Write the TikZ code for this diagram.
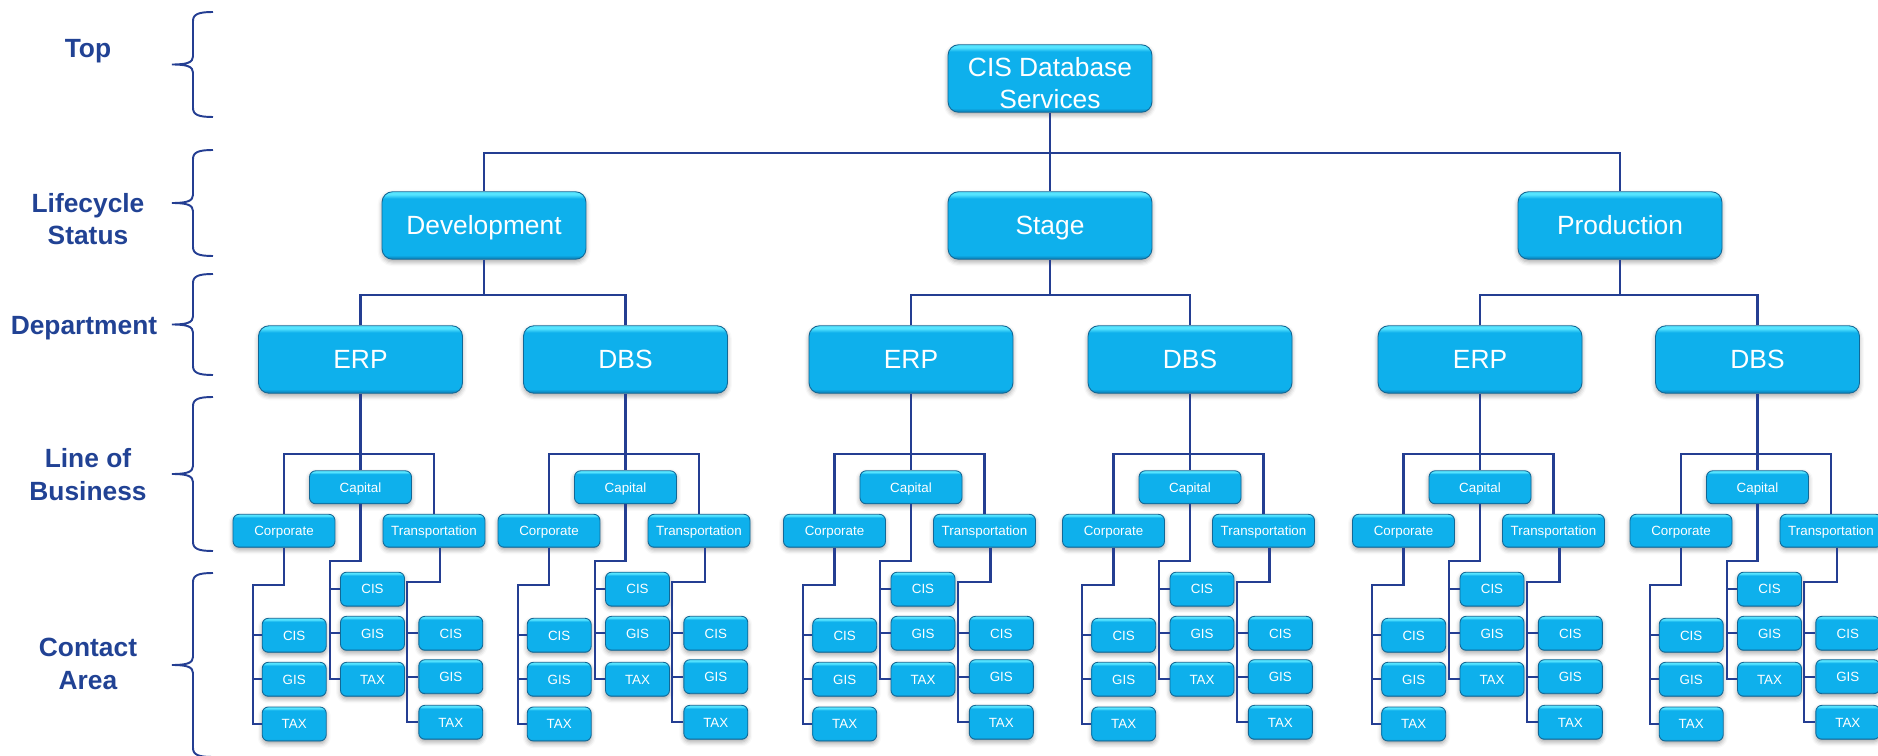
\documentclass[tikz,border=0pt]{standalone}
\usepackage{fontspec}
\setmainfont{Liberation Sans}
\usetikzlibrary{calc,shadows.blur}

\definecolor{boxmain}{RGB}{14,176,236}
\definecolor{boxlight}{RGB}{86,228,255}
\definecolor{boxdark}{RGB}{10,118,172}
\definecolor{boxedge}{RGB}{18,104,150}
\definecolor{lineblue}{RGB}{36,62,146}
\definecolor{lblblue}{RGB}{33,66,148}

\pgfdeclareverticalshading{cisbox}{100bp}{color(0bp)=(boxdark); color(25bp)=(boxdark); color(28bp)=(boxmain); color(70bp)=(boxmain); color(73bp)=(boxlight); color(75bp)=(boxlight); color(100bp)=(boxlight)}

\begin{document}
\begin{tikzpicture}[x=0.02cm,y=-0.02cm]
  \tikzset{
    box/.style={shade, shading=cisbox, draw=boxedge, line width=0.5pt, text=white, inner sep=0pt, align=center,
      blur shadow={shadow xshift=0pt, shadow yshift=-1.5pt, shadow blur radius=2.5pt, shadow opacity=35}},
    bigbox/.style={box, rounded corners=6pt, minimum width=4.08cm, minimum height=1.35cm, font=\fontsize{15}{18.2}\selectfont,
      text height=10.75pt, text depth=0pt},
    lobbox/.style={box, rounded corners=3.5pt, minimum width=2.04cm, minimum height=0.66cm, font=\fontsize{7.6}{9}\selectfont,
      text height=5.45pt, text depth=0pt},
    leafbox/.style={box, rounded corners=3.5pt, minimum width=1.28cm, minimum height=0.68cm, font=\fontsize{7.6}{9}\selectfont,
      text height=5.45pt, text depth=0pt},
    conn/.style={draw=lineblue, line width=1.2pt},
    lvlbrace/.style={draw=lineblue, line width=1.1pt},
    lvllabel/.style={text=lblblue, font=\bfseries\fontsize{15}{18.6}\selectfont, align=center}
  }
  \useasboundingbox (0,0) rectangle (1878,756);

  \node[lvllabel] (toplbl) at (88,51.4) {Top};
  \node[lvllabel] (lifelbl) at (88,219) {Lifecycle\\Status};
  \node[lvllabel] (deptlbl) at (84,328) {Department};
  \node[lvllabel] (loblbl) at (88,474.5) {Line of\\Business};
  \node[lvllabel] (contlbl) at (88,664) {Contact\\Area};

  \foreach \ya/\yb in {12/117, 150/256, 274/375, 397/551, 573/757}{
    \pgfmathsetmacro\ym{(\ya+\yb)/2}
    \draw[lvlbrace] (213,\ya) .. controls (199,\ya) and (193,\ya+2) .. (193,\ya+9) -- (193,\ym-8) .. controls (193,\ym-2) and (187,\ym) .. (172,\ym) .. controls (187,\ym) and (193,\ym+2) .. (193,\ym+8) -- (193,\yb-9) .. controls (193,\yb-2) and (199,\yb) .. (213,\yb);
  }

  \node[bigbox, text height=33.7pt, text depth=0pt] (cisdb) at (1050,78.5) {CIS Database\\Services};
  \node[bigbox] (dev) at (484,225.5) {Development};
  \node[bigbox] (stage) at (1050,225.5) {Stage};
  \node[bigbox] (prod) at (1620,225.5) {Production};

  \foreach \dep/\xc/\lbl in {derp/360.5/ERP, ddbs/625.5/DBS, serp/911/ERP, sdbs/1190/DBS, perp/1480/ERP, pdbs/1757.5/DBS}{
    \node[bigbox] (\dep) at (\xc,359.5) {\lbl};
    \node[lobbox] (\dep-cap) at (\xc,487.3) {Capital};
    \node[lobbox] (\dep-corp) at (\xc-76.5,530.8) {Corporate};
    \node[lobbox] (\dep-trans) at (\xc+73.5,530.8) {Transportation};
    \node[leafbox] (\dep-corp-cis) at (\xc-66.3,635.3) {CIS};
    \node[leafbox] (\dep-corp-gis) at (\xc-66.3,679.3) {GIS};
    \node[leafbox] (\dep-corp-tax) at (\xc-66.3,724) {TAX};
    \node[leafbox] (\dep-cap-cis) at (\xc+12,589.2) {CIS};
    \node[leafbox] (\dep-cap-gis) at (\xc+12,633.3) {GIS};
    \node[leafbox] (\dep-cap-tax) at (\xc+12,679.3) {TAX};
    \node[leafbox] (\dep-trans-cis) at (\xc+90.3,633.3) {CIS};
    \node[leafbox] (\dep-trans-gis) at (\xc+90.3,676.7) {GIS};
    \node[leafbox] (\dep-trans-tax) at (\xc+90.3,722.3) {TAX};

    \draw[conn] (\dep.south) -- (\dep-cap.north);
    \draw[conn] (\dep-corp.north) -- ++(0,-60) -| (\dep-trans.north);
    \draw[conn] (\dep-corp.south) -- ++(0,37) -| ($(\dep-corp-tax.west)+(-9,0)$) -- (\dep-corp-tax.west);
    \draw[conn] ($(\dep-corp-cis.west)+(-9,0)$) -- (\dep-corp-cis.west);
    \draw[conn] ($(\dep-corp-gis.west)+(-9,0)$) -- (\dep-corp-gis.west);
    \draw[conn] (\dep-cap.south) -- ++(0,56.5) -| ($(\dep-cap-tax.west)+(-10.5,0)$) -- (\dep-cap-tax.west);
    \draw[conn] ($(\dep-cap-cis.west)+(-10.5,0)$) -- (\dep-cap-cis.west);
    \draw[conn] ($(\dep-cap-gis.west)+(-10.5,0)$) -- (\dep-cap-gis.west);
    \draw[conn] ($(\dep-trans.south)+(6,0)$) -- ++(0,34.4) -| ($(\dep-trans-tax.west)+(-11,0)$) -- (\dep-trans-tax.west);
    \draw[conn] ($(\dep-trans-cis.west)+(-11,0)$) -- (\dep-trans-cis.west);
    \draw[conn] ($(\dep-trans-gis.west)+(-11,0)$) -- (\dep-trans-gis.west);
  }

  \draw[conn] (cisdb.south) -- (stage.north);
  \draw[conn] (dev.north) -- ++(0,-38.5) -| (prod.north);
  \draw[conn] (derp.north) -- ++(0,-30) -| (ddbs.north);
  \draw[conn] (dev.south) -- ++(0,36.5);
  \draw[conn] (serp.north) -- ++(0,-30) -| (sdbs.north);
  \draw[conn] (stage.south) -- ++(0,36.5);
  \draw[conn] (perp.north) -- ++(0,-30) -| (pdbs.north);
  \draw[conn] (prod.south) -- ++(0,36.5);
\end{tikzpicture}
\end{document}
